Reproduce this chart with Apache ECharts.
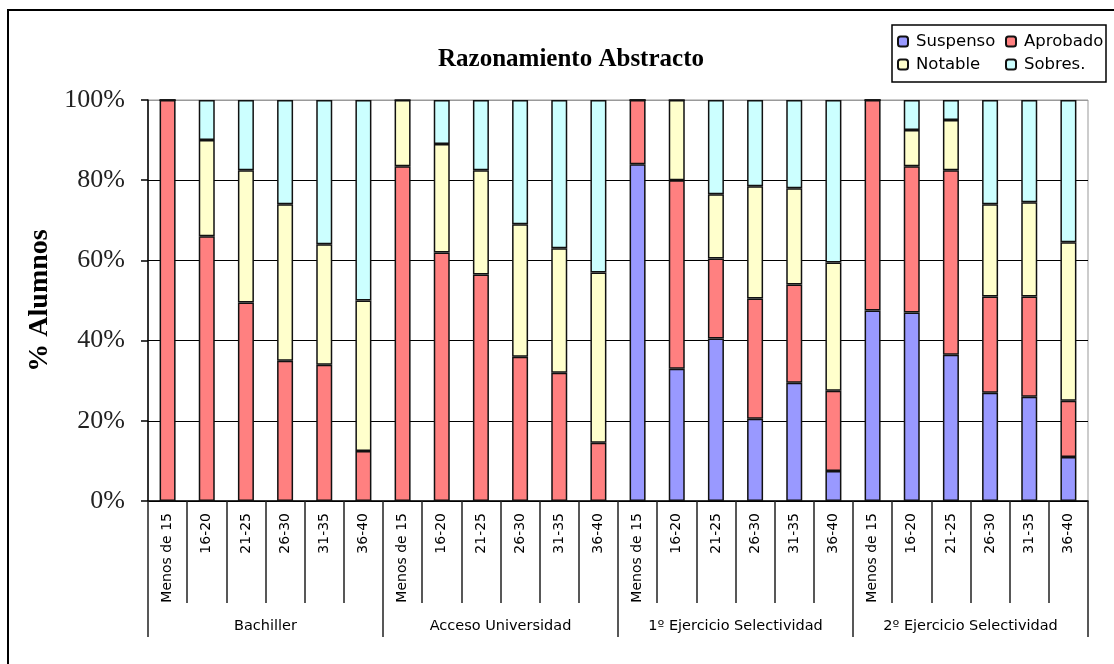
<!DOCTYPE html>
<html>
<head>
<meta charset="utf-8">
<script src="https://cdn.jsdelivr.net/npm/echarts@6/dist/echarts.min.js"></script>
<style>html,body{margin:0;padding:0;background:#fff;}#c{width:1114px;height:664px;}</style>
</head>
<body>
<div id="c"></div>
<script>
var groups = ['Bachiller', 'Acceso Universidad', '1º Ejercicio Selectividad', '2º Ejercicio Selectividad'];
var ages = ['Menos de 15', '16-20', '21-25', '26-30', '31-35', '36-40'];
var yTicks = [0, 20, 40, 60, 80, 100];
var seriesNames = ['Suspenso', 'Aprobado', 'Notable', 'Sobres.'];
var suspenso = [0, 0, 0, 0, 0, 0,
                0, 0, 0, 0, 0, 0,
                84, 33, 40.5, 20.5, 29.5, 7.5,
                47.5, 47, 36.5, 27, 26, 11];
var aprobado = [100, 66, 49.5, 35, 34, 12.5,
                83.5, 62, 56.5, 36, 32, 14.5,
                16, 47, 20, 30, 24.5, 20,
                52.5, 36.5, 46, 24, 25, 14];
var notable = [0, 24, 33, 39, 30, 37.5,
               16.5, 27, 26, 33, 31, 42.5,
               0, 20, 16, 28, 24, 32,
               0, 9, 12.5, 23, 23.5, 39.5];
var sobres = [0, 10, 17.5, 26, 36, 50,
              0, 11, 17.5, 31, 37, 43,
              0, 0, 23.5, 21.5, 22, 40.5,
              0, 7.5, 5, 26, 25.5, 35.5];
var colors = ['#9999FF', '#FF8080', '#FFFFCC', '#CCFFFF'];

var cats = [];
groups.forEach(function (g) { ages.forEach(function (a) { cats.push(g + '|' + a); }); });
var values = [suspenso, aprobado, notable, sobres];

var chart = echarts.init(document.getElementById('c'));
var option = {
  backgroundColor: '#fff',
  animation: false,
  title: {
    text: 'Razonamiento Abstracto',
    left: 566, top: 42, textAlign: 'center',
    textStyle: { fontFamily: 'Liberation Serif', fontWeight: 'bold', fontSize: 25, color: '#000' }
  },
  legend: [
    { data: ['Suspenso', 'Notable'], orient: 'vertical', left: 897, top: 33, padding: 0, itemWidth: 10, itemHeight: 10, itemGap: 6,
      textStyle: { fontFamily: 'DejaVu Sans', fontSize: 16.5, color: '#000', padding: [0, 0, 0, 3] } },
    { data: ['Aprobado', 'Sobres.'], orient: 'vertical', left: 1005, top: 33, padding: 0, itemWidth: 10, itemHeight: 10, itemGap: 6,
      textStyle: { fontFamily: 'DejaVu Sans', fontSize: 16.5, color: '#000', padding: [0, 0, 0, 3] } }
  ],
  graphic: [
    { type: 'rect', shape: { x: 8, y: 10, width: 1120, height: 670 }, style: { fill: 'none', stroke: '#000', lineWidth: 2 }, silent: true },
    { type: 'rect', shape: { x: 892, y: 25, width: 214, height: 57 }, style: { fill: 'none', stroke: '#000', lineWidth: 1.5 }, silent: true }
  ],
  grid: { left: 148, right: 26, top: 100, bottom: 163, show: true, borderColor: '#999', borderWidth: 1, backgroundColor: '#fff' },
  xAxis: [
    {
      type: 'category', data: cats, position: 'bottom',
      axisLine: { show: true, lineStyle: { color: '#000', width: 1.5 } },
      axisTick: { show: true, interval: 0, length: 102, lineStyle: { color: '#222', width: 1.5 } },
      axisLabel: {
        interval: 0, rotate: 90, margin: 12,
        fontFamily: 'DejaVu Sans', fontSize: 14, color: '#000',
        formatter: function (v) { return v.split('|')[1]; }
      }
    },
    {
      type: 'category', data: groups, position: 'bottom',
      axisLine: { show: false },
      axisTick: { show: true, interval: 0, length: 136, lineStyle: { color: '#222', width: 1.5 } },
      axisLabel: { interval: 0, margin: 118, fontFamily: 'DejaVu Sans', fontSize: 14.5, color: '#000' }
    }
  ],
  yAxis: {
    type: 'value', min: 0, max: 100, interval: 20,
    name: '% Alumnos', nameLocation: 'middle', nameRotate: 90, nameGap: 93,
    nameTextStyle: { fontFamily: 'Liberation Serif', fontWeight: 'bold', fontSize: 28, color: '#000' },
    axisLine: { show: true, lineStyle: { color: '#000', width: 1.5 } },
    axisTick: { show: true, length: 7, lineStyle: { color: '#000', width: 1.5 } },
    axisLabel: {
      margin: 23, fontFamily: 'Liberation Serif', fontSize: 26, color: '#222',
      formatter: function (v) { return yTicks.indexOf(v) >= 0 ? v + '%' : ''; }
    },
    splitLine: { show: true, lineStyle: { color: ['#000', '#000', '#000', '#000', '#000', '#999'], width: 1.2 } }
  },
  series: seriesNames.map(function (n, i) {
    return {
      name: n, type: 'bar', stack: 'total', barWidth: 16, xAxisIndex: 0,
      data: values[i],
      itemStyle: { color: colors[i], borderColor: '#111', borderWidth: 1.5 }
    };
  })
};
chart.setOption(option);
</script>
</body>
</html>
